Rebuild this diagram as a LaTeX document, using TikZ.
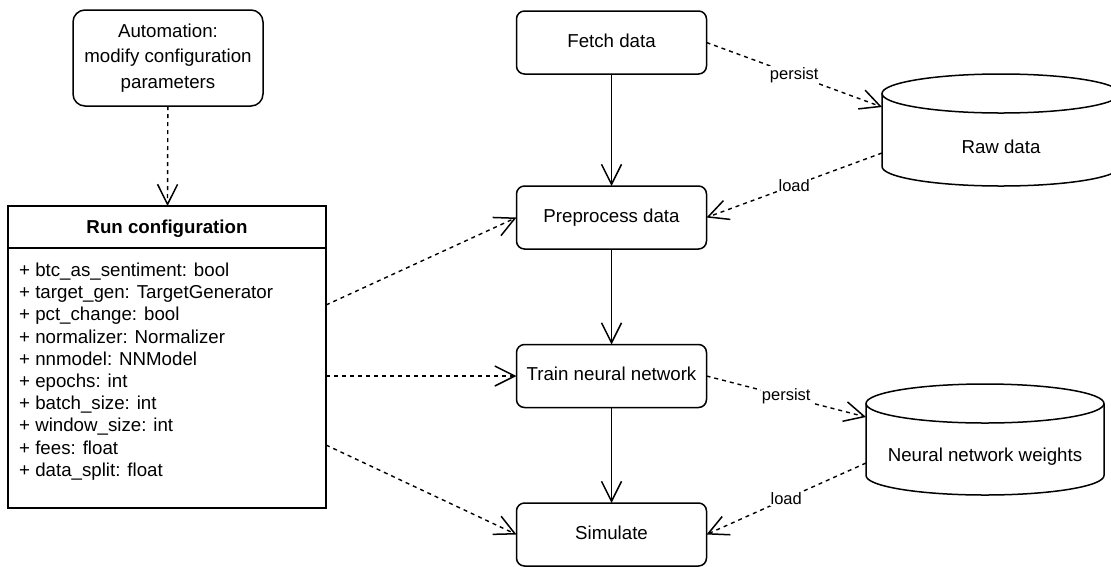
\documentclass[tikz,border=0pt]{standalone}
\usepackage{fontspec}
\setmainfont{Liberation Sans}
\usetikzlibrary{arrows.meta}

\tikzset{
  base/.style={line width=1.5pt, draw=black},
  stepbox/.style={base, rectangle, rounded corners=8pt, minimum width=190pt,
    minimum height=63pt, inner sep=0pt, outer sep=0pt,
    font=\fontsize{18.7}{22.2}\selectfont, text height=13.5pt, text depth=4pt},
  dbbody/.style={rectangle, minimum width=238pt, inner sep=0pt, outer sep=0pt},
  txt/.style={inner sep=0pt, font=\fontsize{18.7}{22.2}\selectfont},
  flow/.style={base, -{Straight Barb[length=20pt,width=20pt,line width=1.5pt]}},
  dep/.style={flow, line width=1.4pt, dash pattern=on 4pt off 4pt},
  lbl/.style={fill=white, inner sep=1pt, font=\fontsize{16.5}{19}\selectfont}
}

\begin{document}
\begin{tikzpicture}[x=1pt, y=1pt]
\useasboundingbox (0,0) rectangle (1111,-566);

% automation and configuration
\node[stepbox, rounded corners=12pt, minimum width=190pt, minimum height=96pt,
      align=center, text height=, text depth=] (auto) at (168,-58)
  {Automation:\\[3.5pt]modify configuration\\[3.5pt]parameters};

\node[base, rectangle, minimum width=318pt, minimum height=302pt, inner sep=0pt,
      outer sep=0pt, anchor=north west] (cfg) at (8,-206) {};
\draw[base] (8,-248) coordinate (sepL) -- (326,-248) coordinate (sepR);
\node[txt, font=\fontsize{18.7}{22.2}\selectfont\bfseries] (cfgtitle) at (167,-229) {Run configuration};

\foreach \t [count=\i] in {
  {+ btc\_as\_sentiment: bool},
  {+ target\_gen: TargetGenerator},
  {+ pct\_change: bool},
  {+ normalizer: Normalizer},
  {+ nnmodel: NNModel},
  {+ epochs: int},
  {+ batch\_size: int},
  {+ window\_size: int},
  {+ fees: float},
  {+ data\_split: float}}
  \node[txt, anchor=base west] (m\i) at (19,{-276.5-22.2*(\i-1)}) {\t};

% pipeline steps
\node[stepbox] (fetch) at (611.5,-42.5) {Fetch data};
\node[stepbox] (pre)   at (611.5,-217.5) {Preprocess data};
\node[stepbox] (train) at (611.5,-376) {Train neural network};
\node[stepbox] (sim)   at (611.5,-534.5) {Simulate};

% data stores
\node[dbbody, minimum height=73pt] (raw) at (1001,-130) {};
\draw[base] (raw.north west) -- (raw.south west)
  arc[start angle=180, end angle=360, x radius=119pt, y radius=19.5pt]
  -- (raw.north east);
\draw[base] (raw.north) ellipse [x radius=119pt, y radius=19.5pt];
\node[txt] (rawtext) at (1001,-147) {Raw data};

\node[dbbody, minimum height=72pt] (nn) at (985,-439.5) {};
\draw[base] (nn.north west) -- (nn.south west)
  arc[start angle=180, end angle=360, x radius=119pt, y radius=19.5pt]
  -- (nn.north east);
\draw[base] (nn.north) ellipse [x radius=119pt, y radius=19.5pt];
\node[txt] (nntext) at (985,-457) {Neural network weights};

% control flow
\draw[flow] (fetch) -- (pre);
\draw[flow] (pre) -- (train);
\draw[flow] (train) -- (sim);

% dependencies
\draw[dep] (auto) -- (cfg);
\draw[dep] ([yshift=52pt]cfg.east) -- (pre.west);
\draw[dep] ([yshift=-19pt]cfg.east) -- (train.west);
\draw[dep] ([yshift=-88pt]cfg.east) -- (sim.west);

\draw[dep] (fetch.east) -- node[lbl] {persist} ([yshift=23pt]raw.west);
\draw[dep] ([yshift=-23pt]raw.west) -- node[lbl] {load} (pre.east);
\draw[dep] (train.east) -- node[lbl] {persist} ([yshift=22.5pt]nn.west);
\draw[dep] ([yshift=-23.5pt]nn.west) -- node[lbl] {load} (sim.east);
\end{tikzpicture}
\end{document}
